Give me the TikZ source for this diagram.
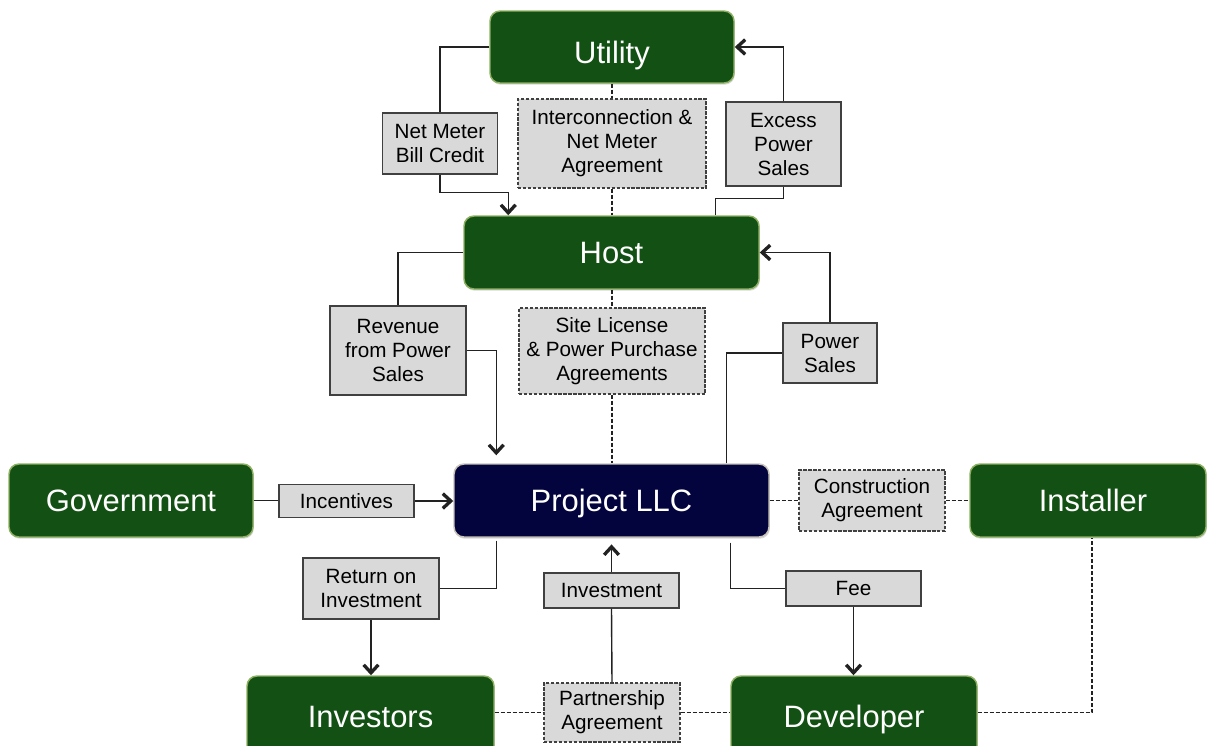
\documentclass[tikz,border=0pt]{standalone}
\usepackage{fontspec}
\setmainfont{Liberation Sans}
\usetikzlibrary{arrows.meta,calc,shadows}
\definecolor{gfill}{HTML}{135013}
\definecolor{gedge}{HTML}{8DB060}
\definecolor{nfill}{HTML}{03033D}
\definecolor{nedge}{HTML}{C9C3B8}
\definecolor{lfill}{HTML}{D9D9D9}
\definecolor{ledge}{HTML}{404040}
\definecolor{lineC}{HTML}{222222}
\tikzset{
  gbox/.style={rectangle, rounded corners=7.5pt, fill=gfill, draw=gedge, line width=1.1pt,
    text=white, font=\fontsize{23.2}{27}\selectfont, inner sep=0pt,
    text height=16.6pt, text depth=0pt,
    drop shadow={shadow xshift=0.6pt, shadow yshift=-1.3pt, opacity=0.3}},
  nbox/.style={gbox, fill=nfill, draw=nedge},
  lbl/.style={rectangle, fill=lfill, draw=ledge, line width=1pt,
    font=\fontsize{15.5}{18}\selectfont, align=center, inner sep=0pt, text=black},
  dlbl/.style={lbl, line width=0.8pt, dash pattern=on 2.5pt off 1.2pt},
  bw/.style={minimum width=#1*0.75pt},
  bh/.style={minimum height=#1*0.75pt},
  conn/.style={draw=lineC, line width=1.05pt},
  arr/.style={conn, -{Straight Barb[length=6pt,width=11pt,line width=2.5pt]}},
  dconn/.style={draw=lineC, line width=0.8pt, dash pattern=on 3pt off 1.5pt}
}
\begin{document}
\begin{tikzpicture}[x=0.75pt, y=-0.75pt]
\useasboundingbox (0,0) rectangle (1207,746);
\clip (0,0) rectangle (1207,746);

% main boxes
\node[gbox, bw=244, bh=72, text height=24.1pt] (utility) at (612,47) {Utility};
\node[gbox, bw=295, bh=73] (host) at (611.5,252.5) {Host};
\node[nbox, bw=315, bh=73] (project) at (611.5,500.5) {Project LLC};
\node[gbox, bw=244, bh=73] (government) at (131,500.5) {Government};
\node[gbox, bw=236, bh=73] (installer) at (1088,500.5) {\hspace*{7.5pt}Installer};
\node[gbox, bw=247, bh=80] (investors) at (370.5,716) {Investors};
\node[gbox, bw=246, bh=80] (developer) at (854,716) {Developer};

% label boxes
\node[lbl, bw=115, bh=61] (netmeter) at (440,143.5) {Net Meter\\Bill Credit};
\node[dlbl, bw=188, bh=89] (interconn) at (612,143.5) {Interconnection \&\\Net Meter\\Agreement};
\node[lbl, bw=115, bh=84] (excess) at (783.5,144) {Excess\\Power\\Sales};
\node[lbl, bw=136, bh=89] (revenue) at (398,350.5) {Revenue\\from Power\\Sales};
\node[dlbl, bw=186, bh=86] (sitelic) at (612,351) {Site License\\\& Power Purchase\\Agreements};
\node[lbl, bw=94, bh=60] (powersales) at (830,353) {Power\\Sales};
\node[lbl, bw=135, bh=33] (incentives) at (346.5,501) {Incentives};
\node[dlbl, bw=146, bh=61] (construction) at (872,500.5) {Construction\\Agreement};
\node[lbl, bw=136, bh=61] (roi) at (371,588.5) {Return on\\Investment};
\node[lbl, bw=135, bh=35] (investment) at (611.5,590.5) {Investment};
\node[lbl, bw=135, bh=35] (fee) at (853.5,588.5) {Fee};
\node[dlbl, bw=136, bh=59] (partnership) at (612,712.5) {Partnership\\Agreement};

% connectors: top
\draw[conn] (utility.west) -| (netmeter.north);
\draw[arr] (netmeter.south) |- ($(host.north west)+(45,-23)$) -- ($(host.north west)+(45,0)$);
\draw[dconn] (interconn.north |- utility.south) -- (interconn.north);
\draw[dconn] (interconn.south) -- (interconn.south |- host.north);
\draw[conn] ($(host.north west)+(252,0)$) |- ($(excess.south)+(0,12)$) -- (excess.south);
\draw[arr] (excess.north) |- (utility.east);

% connectors: middle
\draw[conn] (host.west) -| (revenue.north);
\draw[arr, shorten >=6pt] (revenue.east) -| ($(project.north west)+(43,0)$);
\draw[dconn] (sitelic.north |- host.south) -- (sitelic.north);
\draw[dconn] (sitelic.south) -- (sitelic.south |- project.north);
\draw[conn] ($(project.north west)+(273,0)$) |- (powersales.west);
\draw[arr] (powersales.north) |- (host.east);
\draw[conn] (government.east) -- (government.east -| incentives.west);
\draw[arr] (incentives.east) -- (incentives.east -| project.west);
\draw[dconn] (project.east) -- (project.east -| construction.west);
\draw[dconn] (construction.east) -- (construction.east -| installer.west);

% connectors: bottom
\draw[conn] ($(project.south west)+(43,3)$) |- (roi.east);
\draw[arr] (roi.south) -- (roi.south |- investors.north);
\draw[conn] (partnership.north) -- (investment.south);
\draw[arr, shorten >=5pt] (investment.north) -- (investment.north |- project.south);
\draw[conn] ($(project.south west)+(277,5)$) |- (fee.west);
\draw[arr] (fee.south) -- (fee.south |- developer.north);
\draw[dconn] (partnership.west -| investors.east) -- (partnership.west);
\draw[dconn] (partnership.east) -- (partnership.east -| developer.west);
\draw[dconn] (partnership.east -| developer.east) -| ($(installer.south)+(4,0)$);
\end{tikzpicture}
\end{document}
